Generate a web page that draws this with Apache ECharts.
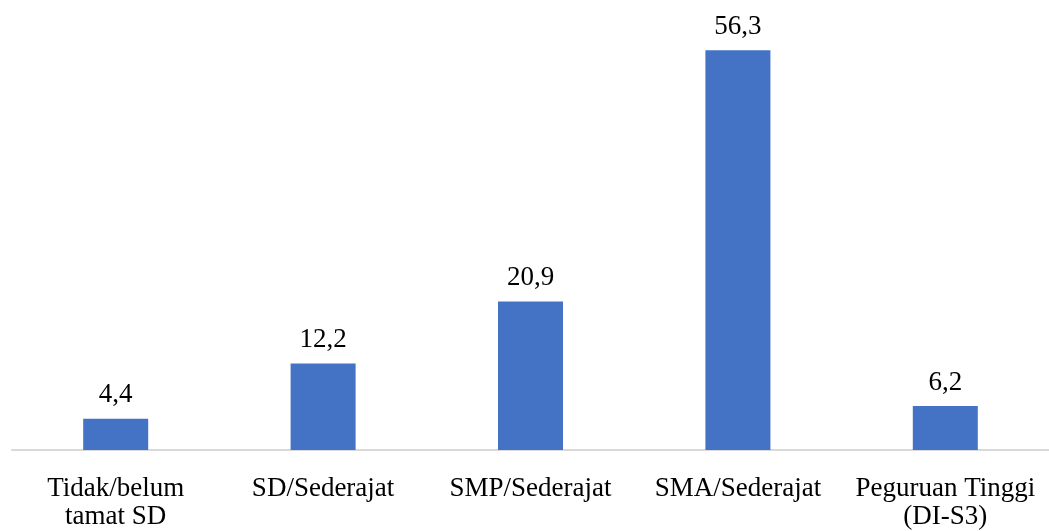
<!DOCTYPE html>
<html>
<head>
<meta charset="utf-8">
<script src="https://cdn.jsdelivr.net/npm/echarts@6/dist/echarts.min.js"></script>
<style>html,body{margin:0;padding:0;background:#fff;}#c{width:1049px;height:531px;}</style>
</head>
<body>
<div id="c"></div>
<script>
const categories = ['Tidak/belum\ntamat SD', 'SD/Sederajat', 'SMP/Sederajat', 'SMA/Sederajat', 'Peguruan Tinggi\n(DI-S3)'];
const values = [4.4, 12.2, 20.9, 56.3, 6.2];

const chart = echarts.init(document.getElementById('c'));
chart.setOption({
  animation: false,
  grid: { left: 12, top: 24, width: 1042, bottom: 76, containLabel: false },
  xAxis: {
    type: 'category',
    data: categories,
    axisLine: { lineStyle: { color: '#d9d9d9', width: 2 } },
    axisTick: { show: false },
    axisLabel: { color: '#000', fontFamily: 'Liberation Serif', fontSize: 27, lineHeight: 28, margin: 25, interval: 0 }
  },
  yAxis: { type: 'value', min: 0, max: 60, show: false, splitLine: { show: false } },
  series: [{
    type: 'bar',
    data: values,
    barWidth: 65,
    itemStyle: { color: '#4472C4' },
    label: {
      show: true, position: 'top', distance: 10,
      color: '#000', fontFamily: 'Liberation Serif', fontSize: 27,
      formatter: p => String(p.value).replace('.', ',')
    }
  }]
});
</script>
</body>
</html>
